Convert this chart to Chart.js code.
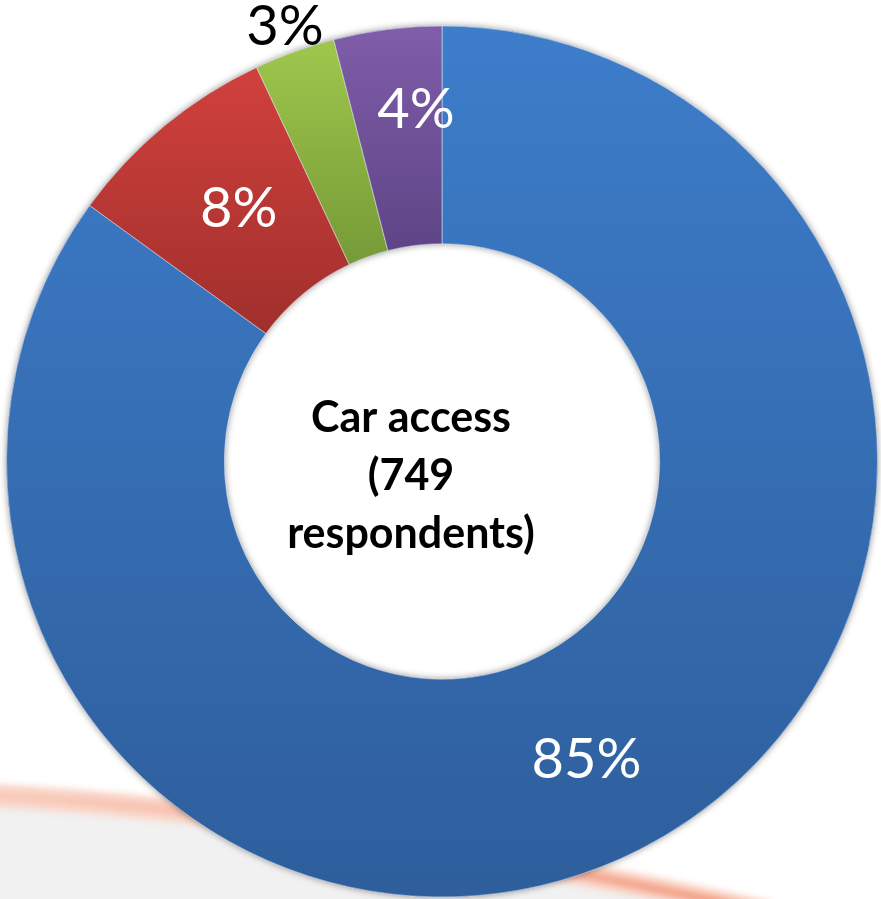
<!DOCTYPE html>
<html>
<head>
<meta charset="utf-8">
<script src="https://cdn.jsdelivr.net/npm/chart.js@4.4.1/dist/chart.umd.min.js"></script>
<style>
  html, body { margin: 0; padding: 0; background: #fff; }
  canvas { display: block; }
</style>
</head>
<body>
<canvas id="carChart" width="881" height="899"></canvas>
<script>
const categories = ['A', 'B', 'C', 'D']
const values = [85, 8, 3, 4]
const centerLines = ['Car access', '(749', 'respondents)']

// slice fills run from a lighter top to a darker bottom
const topColors = ['#3d7dca', '#d1413d', '#9fc74c', '#805da9']
const bottomColors = ['#2e5e9c', '#a02f2c', '#769a37', '#5e4587']
const labelColors = ['#fff', '#fff', '#000', '#fff']
const labelRadius = [0.757, 0.748, 1.065, 0.814]
const labelTurn = [1, 1, 0, 3]

function ringGeometry(chart) {
  const a = chart.chartArea
  const outer = (Math.min(a.right - a.left, a.bottom - a.top) - 1) / 2
  return { cx: (a.left + a.right) / 2, cy: (a.top + a.bottom) / 2, outer, inner: outer * 0.5 }
}

function sliceExtent(chart, i) {
  const g = ringGeometry(chart)
  const total = values.reduce((s, v) => s + v, 0)
  const before = values.slice(0, i).reduce((s, v) => s + v, 0)
  const a0 = -Math.PI / 2 + (before / total) * Math.PI * 2
  const a1 = a0 + (values[i] / total) * Math.PI * 2
  let top = Infinity
  let bottom = -Infinity
  for (let k = 0; k <= 90; k++) {
    const t = a0 + ((a1 - a0) * k) / 90
    for (const r of [g.inner, g.outer]) {
      const y = g.cy + r * Math.sin(t)
      top = Math.min(top, y)
      bottom = Math.max(bottom, y)
    }
  }
  return { top, bottom }
}

function sliceFill(context) {
  const chart = context.chart
  const i = context.dataIndex
  if (!chart.chartArea) return topColors[i]
  const { top, bottom } = sliceExtent(chart, i)
  const grad = chart.ctx.createLinearGradient(0, top, 0, bottom)
  grad.addColorStop(0, topColors[i])
  grad.addColorStop(1, bottomColors[i])
  return grad
}

function swooshPath(ctx, height, dy) {
  ctx.beginPath()
  ctx.moveTo(-20, 795 + dy)
  ctx.quadraticCurveTo(300, 810 + dy, 770, height + 14 + dy)
}

const backdrop = {
  id: 'backdrop',
  beforeDraw(chart) {
    const { ctx, width, height } = chart
    ctx.save()
    ctx.fillStyle = '#fff'
    ctx.fillRect(0, 0, width, height)
    // grey floor under the swoosh
    ctx.filter = 'blur(3px)'
    swooshPath(ctx, height, 8)
    ctx.lineTo(-20, height + 30)
    ctx.closePath()
    ctx.fillStyle = '#f1f1f1'
    ctx.fill()
    // soft salmon swoosh
    swooshPath(ctx, height, 0)
    ctx.lineWidth = 24
    ctx.strokeStyle = 'rgba(250, 212, 198, 0.9)'
    ctx.stroke()
    ctx.filter = 'blur(3px)'
    const band = ctx.createLinearGradient(0, 0, 770, 0)
    band.addColorStop(0, 'rgba(248, 196, 178, 0.7)')
    band.addColorStop(0.6, 'rgba(245, 172, 148, 0.85)')
    band.addColorStop(1, 'rgba(242, 150, 120, 0.9)')
    ctx.lineWidth = 10
    ctx.strokeStyle = band
    ctx.stroke()
    ctx.restore()
  },
}

const ringShadow = {
  id: 'ringShadow',
  beforeDatasetsDraw(chart) {
    const arc = chart.getDatasetMeta(0).data[0]
    if (!arc) return
    const p = arc.getProps(['x', 'y', 'innerRadius', 'outerRadius'], true)
    const ctx = chart.ctx
    ctx.save()
    ctx.shadowColor = 'rgba(0, 0, 0, 0.45)'
    ctx.shadowBlur = 7
    ctx.beginPath()
    ctx.arc(p.x, p.y, p.outerRadius, 0, Math.PI * 2)
    ctx.arc(p.x, p.y, p.innerRadius, Math.PI * 2, 0, true)
    ctx.fillStyle = '#3a6fb0'
    ctx.fill()
    ctx.restore()
  },
}

const sliceLabels = {
  id: 'sliceLabels',
  afterDatasetsDraw(chart) {
    const ctx = chart.ctx
    const size = 56
    ctx.save()
    ctx.font = size + 'px Lato'
    ctx.textAlign = 'center'
    ctx.textBaseline = 'alphabetic'
    chart.getDatasetMeta(0).data.forEach((arc, i) => {
      const p = arc.getProps(['x', 'y', 'startAngle', 'endAngle', 'outerRadius'], true)
      const ang = (p.startAngle + p.endAngle) / 2 + (labelTurn[i] * Math.PI) / 180
      const r = p.outerRadius * labelRadius[i]
      ctx.fillStyle = labelColors[i]
      ctx.fillText(values[i] + '%', p.x + r * Math.cos(ang), p.y + r * Math.sin(ang) + size * 0.36)
    })
    ctx.restore()
  },
}

const centerText = {
  id: 'centerText',
  afterDraw(chart) {
    const g = ringGeometry(chart)
    const ctx = chart.ctx
    ctx.save()
    ctx.font = 'bold 43px Lato'
    ctx.fillStyle = '#000'
    ctx.textAlign = 'center'
    ctx.textBaseline = 'alphabetic'
    centerLines.forEach((line, k) => {
      ctx.fillText(line, g.cx - 31, g.cy - 30 + k * 58)
    })
    ctx.restore()
  },
}

new Chart(document.getElementById('carChart').getContext('2d'), {
  type: 'doughnut',
  data: {
    labels: categories,
    datasets: [
      {
        data: values,
        backgroundColor: sliceFill,
        borderColor: 'rgba(255, 255, 255, 0.45)',
        borderWidth: 1,
        hoverOffset: 0,
      },
    ],
  },
  options: {
    responsive: false,
    animation: false,
    events: [],
    cutout: '50%',
    rotation: 0,
    layout: { padding: { left: 6, right: 3, top: 25, bottom: 1 } },
    plugins: {
      legend: { display: false },
      tooltip: { enabled: false },
    },
  },
  plugins: [backdrop, ringShadow, sliceLabels, centerText],
})
</script>
</body>
</html>
